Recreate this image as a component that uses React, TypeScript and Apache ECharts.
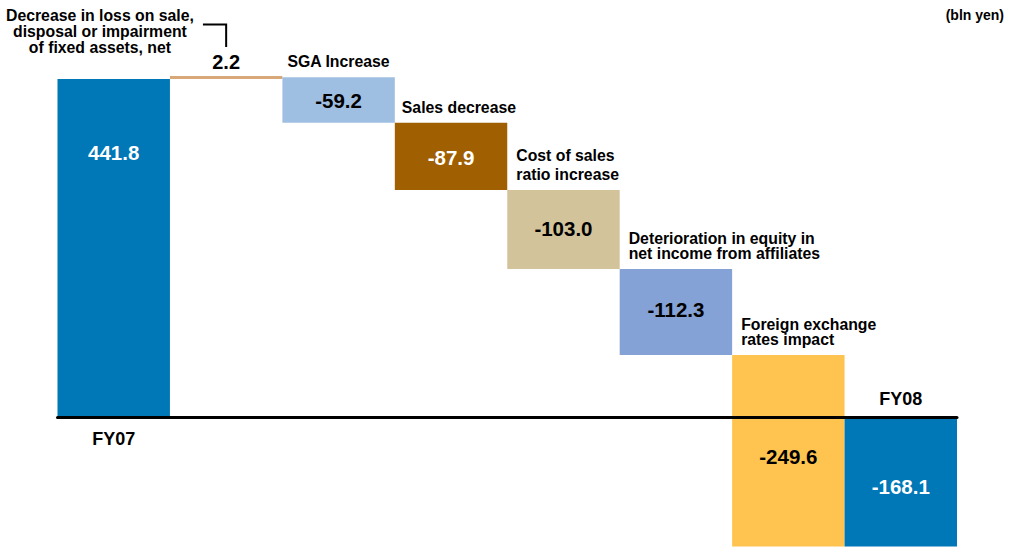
import React, { useEffect, useRef } from "react";
import * as echarts from "echarts";

// ---- data ----
const categories = [
  "FY07",
  "Decrease in loss on sale,\ndisposal or impairment\nof fixed assets, net",
  "SGA Increase",
  "Sales decrease",
  "Cost of sales\nratio increase",
  "Deterioration in equity in\nnet income from affiliates",
  "Foreign exchange\nrates impact",
  "FY08",
];
const values = [441.8, 2.2, -59.2, -87.9, -103.0, -112.3, -249.6, -168.1];
const isTotal = [true, false, false, false, false, false, false, true];
const unitLabel = "(bln yen)";

// ---- styles ----
const FONT = "'Liberation Sans', Arial, Helvetica, sans-serif";
const barColors = ["#0077B6", "#D8A878", "#9FBFE2", "#A05F00", "#D3C39A", "#84A2D6", "#FFC44F", "#0077B6"];
const valueTextColors = ["#FFFFFF", "#000000", "#000000", "#FFFFFF", "#000000", "#000000", "#000000", "#FFFFFF"];
const valueLabelDy = [-96, 0, 1, 1, -1, -3, 6, 4];
const catLabelDx = [0, 0, 5, 7, 9, 9, 9, 0];
const catLineHeight = [18, 15.7, 15.5, 15.5, 19.5, 15.5, 15, 18];
const CAT_FONT = 15.8;

function buildBars() {
  let running = 0;
  return values.map((v, i) => {
    let low: number;
    let high: number;
    if (isTotal[i]) {
      low = Math.min(0, v);
      high = Math.max(0, v);
      running = v;
    } else {
      const next = running + v;
      low = Math.min(running, next);
      high = Math.max(running, next);
      running = next;
    }
    return [i, low, high];
  });
}

function fmt(v: number) {
  return v.toFixed(1);
}

export default function App() {
  const ref = useRef<HTMLDivElement>(null);
  useEffect(() => {
    if (!ref.current) return;
    const chart = echarts.init(ref.current, undefined, { renderer: "svg" });
    const bars = buildBars();

    const renderItem = (params: any, api: any) => {
      const i = api.value(0);
      const low = api.value(1);
      const high = api.value(2);
      const pTop = api.coord([i, high]);
      const pBot = api.coord([i, low]);
      const zeroY = api.coord([i, 0])[1];
      const w = api.size([1, 0])[0];
      const cx = pTop[0];
      const x0 = cx - w / 2;
      let y0 = pTop[1];
      let h = pBot[1] - pTop[1];
      if (h < 3) {
        y0 = pBot[1] - 3;
        h = 3;
      }
      const children: any[] = [
        {
          type: "rect",
          shape: { x: x0, y: y0, width: w, height: h },
          style: { fill: barColors[i] },
        },
      ];
      // value label
      if (i === 1) {
        children.push({
          type: "text",
          style: {
            text: fmt(values[i]),
            x: cx,
            y: y0 - 14,
            fill: valueTextColors[i],
            font: `bold 20px ${FONT}`,
            align: "center",
            verticalAlign: "middle",
          },
        });
      } else {
        children.push({
          type: "text",
          style: {
            text: fmt(values[i]),
            x: cx,
            y: y0 + h / 2 + valueLabelDy[i],
            fill: valueTextColors[i],
            font: `bold 20.5px ${FONT}`,
            align: "center",
            verticalAlign: "middle",
          },
        });
      }
      // category label
      if (i === 0) {
        children.push({
          type: "text",
          style: {
            text: categories[i],
            x: cx,
            y: zeroY + 21,
            fill: "#000",
            font: `bold 18px ${FONT}`,
            align: "center",
            verticalAlign: "middle",
          },
        });
      } else if (i === categories.length - 1) {
        children.push({
          type: "text",
          style: {
            text: categories[i],
            x: cx,
            y: zeroY - 19,
            fill: "#000",
            font: `bold 18px ${FONT}`,
            align: "center",
            verticalAlign: "middle",
          },
        });
      } else if (i === 1) {
        children.push({
          type: "text",
          style: {
            text: categories[i],
            x: x0 - 70,
            y: y0 - 21,
            fill: "#000",
            font: `bold ${CAT_FONT}px ${FONT}`,
            lineHeight: catLineHeight[i],
            align: "center",
            verticalAlign: "bottom",
          },
        });
        children.push({
          type: "polyline",
          shape: {
            points: [
              [x0 + 33, y0 - 51.5],
              [cx, y0 - 51.5],
              [cx, y0 - 29],
            ],
          },
          style: { stroke: "#000", lineWidth: 2, fill: "none" },
        });
      } else {
        const L = catLineHeight[i];
        children.push({
          type: "text",
          style: {
            text: categories[i],
            x: x0 + catLabelDx[i],
            y: y0 - 15.5 + L / 2,
            fill: "#000",
            font: `bold ${CAT_FONT}px ${FONT}`,
            lineHeight: L,
            align: "left",
            verticalAlign: "bottom",
          },
        });
      }
      return { type: "group", children };
    };

    chart.setOption({
      animation: false,
      backgroundColor: "#FFFFFF",
      grid: { left: 57.5, right: 52, top: 72.7, height: 476.2, containLabel: false },
      graphic: [
        {
          type: "text",
          right: 5,
          top: 8,
          style: {
            text: unitLabel,
            fill: "#000",
            font: `bold 14px ${FONT}`,
          },
        },
      ],
      xAxis: {
        type: "category",
        data: categories,
        boundaryGap: true,
        z: 5,
        axisLine: { show: true, onZero: true, lineStyle: { color: "#000", width: 3 } },
        axisTick: { show: false },
        axisLabel: { show: false },
        splitLine: { show: false },
      },
      yAxis: {
        type: "value",
        min: -170,
        max: 450,
        show: false,
        splitLine: { show: false },
      },
      series: [
        {
          type: "custom",
          renderItem,
          clip: false,
          encode: { x: 0, y: [1, 2] },
          data: bars,
        },
      ],
    });
    return () => chart.dispose();
  }, []);
  return (
    <div
      ref={ref}
      style={{ position: "absolute", left: 0, top: 0, width: 1009, height: 548 }}
    />
  );
}
